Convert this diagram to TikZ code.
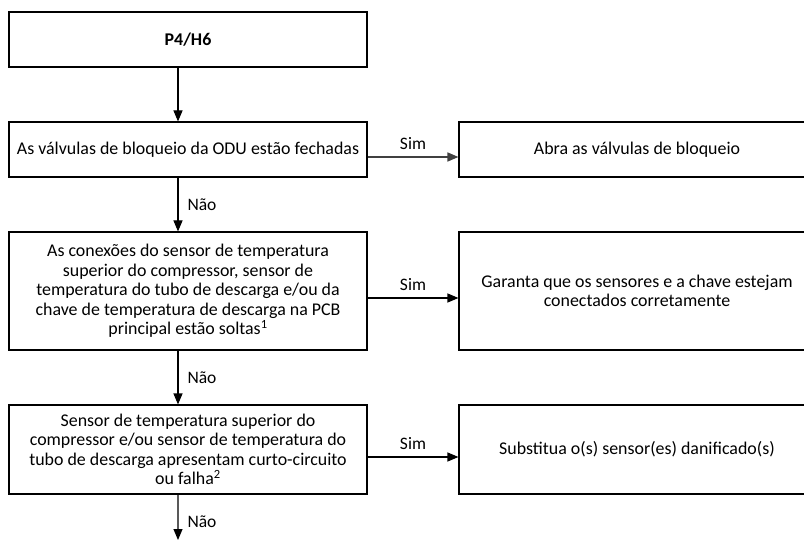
\documentclass[tikz,border=0pt]{standalone}
\usepackage{fontspec}
\setmainfont{Carlito}
\usetikzlibrary{arrows.meta}
\tikzset{
  box/.style={draw=black, line width=1.1bp, minimum width=358bp, align=center, inner sep=0pt, font=\fontsize{17.9bp}{19.5bp}\selectfont},
  rbox/.style={box, minimum width=356bp},
  flow/.style={draw=black, line width=1.1bp, -{Triangle[length=11bp,width=9bp]}},
  lbl/.style={font=\fontsize{17.5bp}{19bp}\selectfont, inner sep=0pt}
}
\begin{document}
\begin{tikzpicture}[x=1bp,y=-1bp]
\useasboundingbox (0,0) rectangle (804,540);
\clip (0,0) rectangle (804,540);
\node[box, minimum height=55bp] (p4) at (188,39.5) {\textbf{P4/H6}};
\node[box, minimum height=55bp] (q1) at (188,149.5) {As válvulas de bloqueio da ODU estão fechadas};
\node[box, minimum height=118bp] (q2) at (188,291) {As conexões do sensor de temperatura\\superior do compressor, sensor de\\temperatura do tubo de descarga e/ou da\\chave de temperatura de descarga na PCB\\principal estão soltas\textsuperscript{1}};
\node[box, minimum height=89bp] (q3) at (188,449.5) {Sensor de temperatura superior do\\compressor e/ou sensor de temperatura do\\tubo de descarga apresentam curto-circuito\\ou falha\textsuperscript{2}};
\node[rbox, minimum height=55bp] (a1) at (637,149.5) {Abra as válvulas de bloqueio};
\node[rbox, minimum height=118bp] (a2) at (637,291) {Garanta que os sensores e a chave estejam\\conectados corretamente};
\node[rbox, minimum height=89bp] (a3) at (637,449.5) {Substitua o(s) sensor(es) danificado(s)};
\coordinate (end) at (178,540);

\draw[flow] ([xshift=-10bp]p4.south) -- ([xshift=-10bp]q1.north);
\draw[flow] ([xshift=-10bp]q1.south) -- node[lbl, right=9bp] (n1) {Não} ([xshift=-10bp]q2.north);
\draw[flow] ([xshift=-10bp]q2.south) -- node[lbl, right=9bp] (n2) {Não} ([xshift=-10bp]q3.north);
\draw[flow] ([xshift=-10bp]q3.south) -- node[lbl, right=9bp, pos=0.6] (n3) {Não} (end);
\draw[flow, draw=black!75, line width=1.5bp] ([yshift=-7.5bp]q1.east) -- node[lbl, above=7bp] (s1) {Sim} ([yshift=-7.5bp]a1.west);
\draw[flow] ([yshift=-7bp]q2.east) -- node[lbl, above=7bp] (s2) {Sim} ([yshift=-7bp]a2.west);
\draw[flow] ([yshift=-7.5bp]q3.east) -- node[lbl, above=7bp] (s3) {Sim} ([yshift=-7.5bp]a3.west);
\end{tikzpicture}
\end{document}
